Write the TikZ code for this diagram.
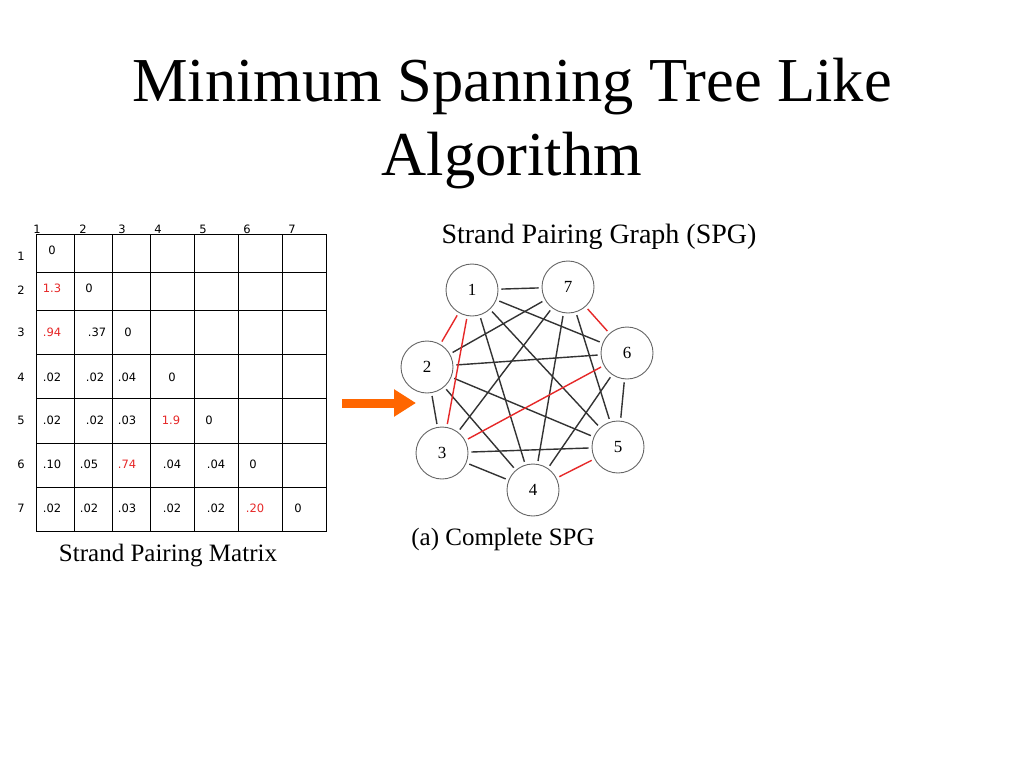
\documentclass[tikz,border=0pt]{standalone}
\usepackage{fontspec}
\setmainfont{Liberation Serif}
\newfontfamily\cellfont{DejaVu Sans}
\usetikzlibrary{arrows.meta}
\definecolor{edgered}{RGB}{230,40,40}
\definecolor{arroworange}{RGB}{255,102,0}
\tikzset{
  vert/.style={circle,draw=black!60,line width=0.9pt,fill=white,minimum size=52pt,inner sep=0pt,font=\fontsize{17}{19}\selectfont},
  blk/.style={draw=black!80,line width=1.4pt,shorten >=3pt,shorten <=3pt},
  redge/.style={draw=edgered,line width=1.4pt,shorten >=3pt,shorten <=3pt},
  cell/.style={inner sep=0pt,font=\cellfont\fontsize{11.5}{13}\selectfont},
  rcell/.style={cell,text=edgered},
  lab/.style={inner sep=0pt,font=\cellfont\fontsize{11.5}{13}\selectfont},
  mgrid/.style={draw=black,line width=1pt},
  titl/.style={inner sep=0pt,anchor=base,font=\fontsize{62.5}{75}\selectfont},
  capt/.style={inner sep=0pt,anchor=base,font=\fontsize{25}{30}\selectfont}
}
\begin{document}
\begin{tikzpicture}[x=1pt,y=-1pt]
\useasboundingbox (0,0) rectangle (1024,768);
\fill[white] (0,0) rectangle (1024,768);
% title
\node[titl] (title1) at (512,101) {Minimum Spanning Tree Like};
\node[titl] (title2) at (512,175) {Algorithm};
% column headers (partly hidden under the grid)
\foreach \x/\t in {37/1,83/2,122/3,158/4,203/5,247/6,292/7} \node[lab] (c\t) at (\x,229.5) {\t};
% matrix grid
\fill[white] (36,234) rectangle (326,531);
\draw[mgrid] (36,234) rectangle (326,531);
\foreach \x in {74,112,150,194,238,282} \draw[mgrid] (\x,234) -- (\x,531);
\foreach \y in {272,310,354,398,443,487} \draw[mgrid] (36,\y) -- (326,\y);
% row headers
\foreach \y/\t in {256/1,290/2,332/3,377/4,420/5,464/6,508/7} \node[lab] (r\t) at (21,\y) {\t};
% cells
\node[cell] (m11) at (52,250) {0};
\node[rcell] (m21) at (52,288) {1.3};
\node[cell] (m22) at (89,288) {0};
\node[rcell] (m31) at (52,332) {.94};
\node[cell] (m32) at (97,332) {.37};
\node[cell] (m33) at (128,332) {0};
\node[cell] (m41) at (52,377) {.02};
\node[cell] (m42) at (95,377) {.02};
\node[cell] (m43) at (127,377) {.04};
\node[cell] (m44) at (172,377) {0};
\node[cell] (m51) at (52,420) {.02};
\node[cell] (m52) at (95,420) {.02};
\node[cell] (m53) at (127,420) {.03};
\node[rcell] (m54) at (171,420) {1.9};
\node[cell] (m55) at (209,420) {0};
\node[cell] (m61) at (52,464) {.10};
\node[cell] (m62) at (89,464) {.05};
\node[rcell] (m63) at (127,464) {.74};
\node[cell] (m64) at (172,464) {.04};
\node[cell] (m65) at (216,464) {.04};
\node[cell] (m66) at (253,464) {0};
\node[cell] (m71) at (52,508) {.02};
\node[cell] (m72) at (89,508) {.02};
\node[cell] (m73) at (127,508) {.03};
\node[cell] (m74) at (172,508) {.02};
\node[cell] (m75) at (216,508) {.02};
\node[rcell] (m76) at (255,508) {.20};
\node[cell] (m77) at (298,508) {0};
\node[capt] (mcap) at (168,561) {Strand Pairing Matrix};
% arrow
\coordinate (a0) at (342,403);
\coordinate (a1) at (416,403);
\draw[arroworange,line width=9pt,-{Triangle[length=22pt,width=26pt]}] (a0) -- (a1);
% graph
\node[capt,font=\fontsize{28}{32}\selectfont] (gcap) at (599,243) {Strand Pairing Graph (SPG)};
\node[capt] (acap) at (503,545) {(a) Complete SPG};
\node[vert] (n1) at (472,290) {1};
\node[vert] (n7) at (568,287) {7};
\node[vert] (n6) at (627,353) {6};
\node[vert] (n2) at (427,367) {2};
\node[vert] (n3) at (442,453) {3};
\node[vert] (n5) at (618,447) {5};
\node[vert] (n4) at (533,490) {4};
% edges
\foreach \a/\b in {1/7,1/6,1/5,1/4,7/2,7/3,7/4,7/5,2/6,2/5,2/4,2/3,3/5,3/4,6/5,6/4}
  \draw[blk] (n\a) -- (n\b);
\foreach \a/\b in {1/2,1/3,7/6,3/6,5/4}
  \draw[redge] (n\a) -- (n\b);
\end{tikzpicture}
\end{document}
